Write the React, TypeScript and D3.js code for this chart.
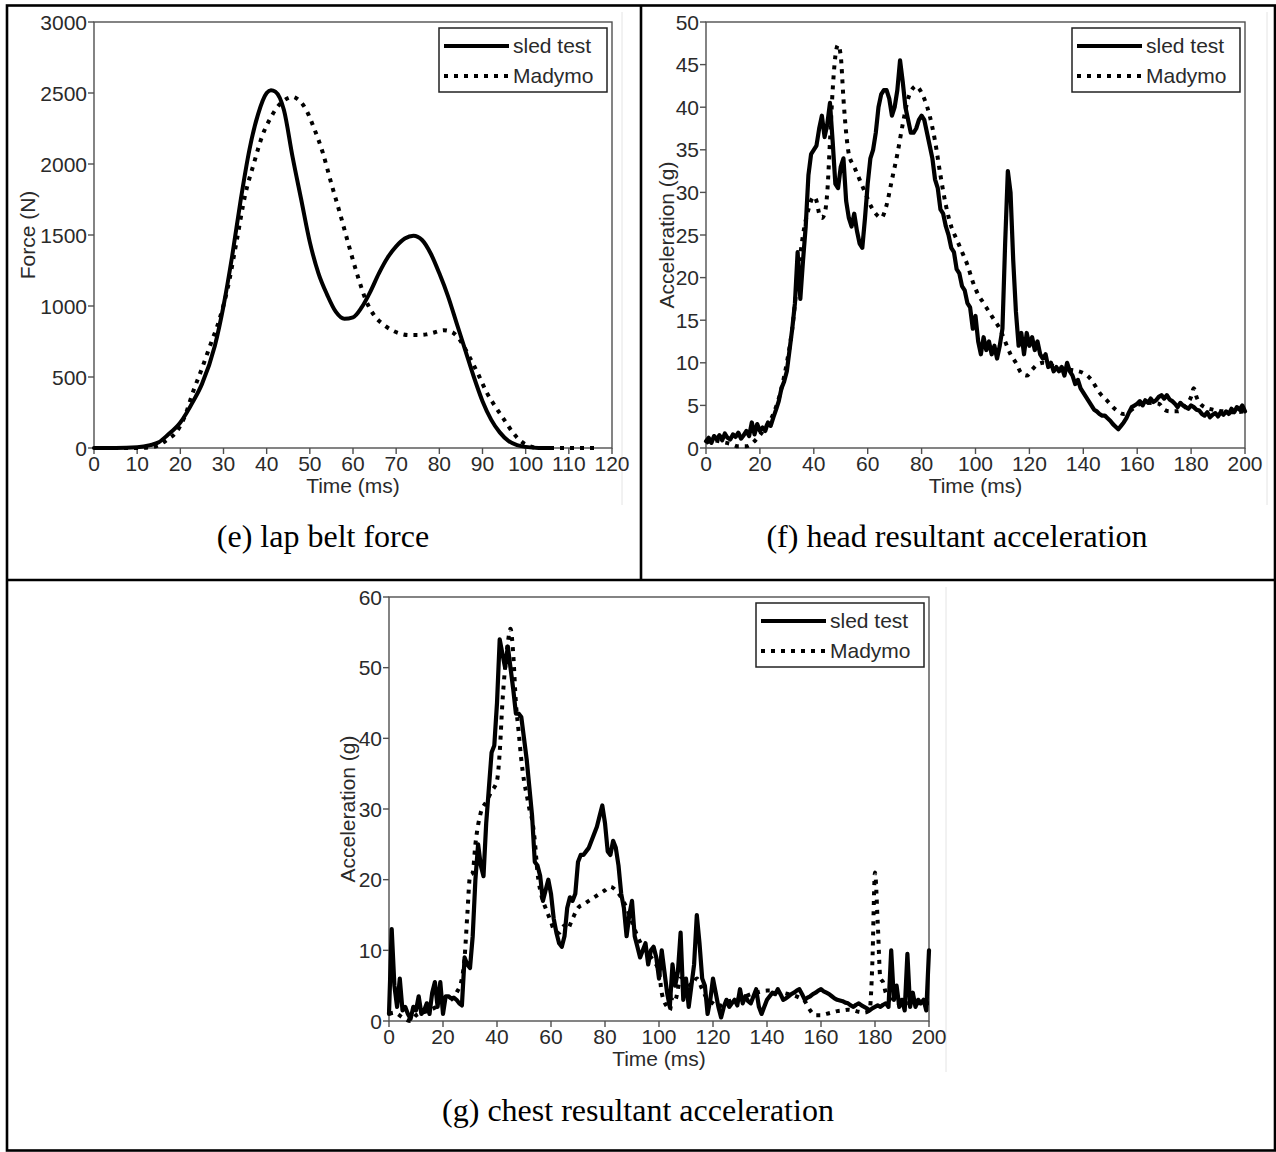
import React from "react";
import * as d3 from "d3";

type Pt = [number, number];

// ---- (e) lap belt force, N ----
const lapTicksX = [0, 10, 20, 30, 40, 50, 60, 70, 80, 90, 100, 110, 120];
const lapTicksY = [0, 500, 1000, 1500, 2000, 2500, 3000];
const lapSled: Pt[] = [
  [0, 0], [5, 0], [10, 5], [13, 20], [15, 40], [17, 90], [20, 180], [23, 330], [25, 450],
  [28, 720], [30, 1000], [32, 1350], [34, 1750], [36, 2100], [38, 2350], [40, 2500],
  [41, 2520], [42, 2510], [44, 2380], [46, 2050], [48, 1750], [50, 1450], [52, 1230],
  [54, 1080], [56, 960], [58, 910], [60, 920], [62, 990], [64, 1100], [66, 1230],
  [68, 1340], [70, 1420], [72, 1475], [74, 1495], [76, 1465], [78, 1370], [80, 1230],
  [82, 1070], [84, 880], [86, 690], [88, 500], [90, 330], [92, 200], [94, 110], [96, 50],
  [98, 20], [100, 8], [103, 0], [106, 0],
];
const lapMadymo: Pt[] = [
  [0, 0], [5, 0], [10, 0], [13, 5], [15, 20], [17, 60], [19, 110], [21, 220], [23, 400],
  [25, 560], [27, 730], [29, 900], [31, 1130], [33, 1450], [35, 1780], [37, 2000],
  [39, 2200], [41, 2330], [43, 2420], [45, 2465], [46, 2473], [47, 2460], [49, 2390],
  [51, 2250], [53, 2080], [55, 1860], [57, 1650], [59, 1430], [61, 1220], [63, 1040],
  [65, 930], [67, 870], [69, 830], [71, 805], [73, 795], [75, 795], [77, 800], [79, 815],
  [81, 830], [83, 815], [85, 750], [87, 640], [89, 520], [91, 390], [93, 290], [95, 200],
  [97, 110], [99, 45], [101, 12], [103, 0], [110, 0], [117, 0],
];

// ---- (f) head resultant acceleration, g ----
const accTicksX = [0, 20, 40, 60, 80, 100, 120, 140, 160, 180, 200];
const headTicksY = [0, 5, 10, 15, 20, 25, 30, 35, 40, 45, 50];
// sled test, sampled every 1 ms from 0 to 200 ms
const headSled: number[] = [
  0.8, 1.2, 0.6, 1.4, 1.0, 1.5, 0.9, 1.7, 1.2, 1.0, 1.6, 1.3, 1.8, 1.1, 1.5, 2.0, 1.4, 3.0, 1.6, 2.8,
  2.0, 2.4, 2.0, 3.0, 2.6, 3.6, 4.5, 5.5, 7.0, 7.8, 9.0, 11.5, 14.0, 17.0, 23.0, 17.5, 22.0, 26.0, 32.0, 34.5,
  35.0, 35.5, 37.5, 39.0, 36.5, 38.0, 40.5, 36.0, 31.0, 30.5, 33.0, 34.0, 29.0, 27.0, 26.0, 27.5, 25.5, 24.0, 23.5, 27.0,
  31.0, 34.0, 35.0, 37.0, 40.0, 41.5, 42.0, 42.0, 41.0, 39.0, 40.0, 42.0, 45.5, 43.0, 40.0, 38.5, 37.0, 37.0, 37.5, 38.5,
  39.0, 38.5, 37.0, 35.5, 34.0, 31.5, 30.5, 28.0, 27.5, 26.0, 25.0, 23.5, 23.0, 21.0, 20.5, 19.0, 18.5, 17.0, 16.5, 14.0,
  15.5, 12.5, 11.0, 13.0, 11.5, 12.5, 11.0, 12.0, 10.5, 12.0, 14.0, 24.0, 32.5, 30.0, 22.0, 16.0, 12.0, 13.5, 11.0, 13.5,
  12.0, 13.0, 11.5, 12.5, 11.0, 10.5, 11.0, 9.5, 10.0, 9.0, 9.5, 9.0, 9.5, 8.5, 10.0, 9.0, 8.5, 7.5, 8.0, 7.0,
  6.5, 6.0, 5.5, 5.0, 4.5, 4.3, 4.0, 3.8, 3.8, 3.5, 3.2, 2.8, 2.5, 2.2, 2.6, 3.0, 3.5, 4.2, 4.8, 5.0,
  5.2, 5.5, 5.0, 5.6, 5.3, 5.8, 5.4, 5.6, 6.0, 6.2, 5.8, 6.2, 5.7, 5.5, 5.2, 4.8, 5.3, 5.0, 4.8, 4.6,
  5.0, 4.8, 4.5, 4.4, 4.0, 3.8, 4.2, 3.6, 3.9, 4.1, 3.7, 4.2, 3.9, 4.3, 4.0, 4.6, 4.2, 4.8, 4.5, 5.0,
  4.3,
];
const headMadymo: Pt[] = [
  [0, 0.6], [3, 0.9], [6, 0.7], [9, 0.5], [12, 0.2], [15, 0.2], [18, 0.8], [20, 1.5], [22, 2.4],
  [25, 4], [28, 7], [30, 10], [32, 14], [34, 20], [36, 25], [38, 28], [40, 29.5], [41, 29],
  [42, 27.5], [43, 27], [44, 27.5], [45, 30], [46, 36], [47, 42], [48, 46], [49, 47.3], [50, 46],
  [51, 41], [52, 37], [53, 34.5], [55, 33], [57, 31.5], [59, 30], [61, 28.5], [63, 27.5], [65, 27],
  [67, 28.5], [69, 31.5], [71, 34.5], [73, 38], [75, 41], [77, 42.3], [78, 42.5], [79, 42.2],
  [81, 41], [83, 39], [85, 36], [87, 32], [89, 28.5], [91, 26], [93, 24.5], [95, 23], [97, 21.5],
  [99, 19.5], [101, 18], [103, 17], [105, 16], [107, 15], [109, 14], [111, 12.5], [113, 11],
  [115, 10], [117, 8.8], [119, 8.5], [121, 9.2], [123, 9.8], [125, 10], [130, 9.5], [135, 9.2],
  [140, 8.8], [143, 8], [146, 6.5], [149, 5.5], [152, 4.5], [155, 4], [158, 4.5], [160, 5],
  [164, 5.3], [168, 5.2], [170, 4.5], [172, 4.3], [175, 4.3], [178, 5], [180, 6], [181, 7],
  [182, 6], [184, 5], [188, 4.5], [192, 4.3], [196, 4.2], [200, 4.3],
];

// ---- (g) chest resultant acceleration, g ----
const chestTicksY = [0, 10, 20, 30, 40, 50, 60];
// sled test, sampled every 1 ms from 0 to 200 ms
const chestSled: number[] = [
  1, 13, 5, 2, 6, 1.5, 2, 1, 0.3, 2, 1.5, 3.5, 1, 1.5, 2.5, 1, 4, 5.5, 2, 5.5,
  1, 3.5, 3.5, 3.2, 3.3, 3, 2.5, 2.2, 9, 8, 7.5, 12, 20, 25, 22, 20.5, 28, 33, 38, 39,
  45, 54, 52, 50, 53, 50, 47, 43.5, 43.5, 43, 40, 37, 33, 29, 22.5, 22, 20.5, 17, 18.5, 20,
  18, 14.5, 12.5, 11, 10.5, 12, 16, 17.5, 17, 18, 22.5, 23.5, 23.5, 24, 24.5, 25.5, 26.5, 27.5, 29, 30.5,
  28, 24, 23.5, 25.5, 24.5, 22, 18, 16, 12, 15, 17, 12, 10.5, 9, 10, 11, 8, 10, 10.5, 9,
  6, 10, 7, 4, 2, 8, 5, 7, 12.5, 3, 6, 2, 5, 8, 15, 11, 6, 5, 1, 3,
  6, 4, 2, 0.5, 2, 3, 2, 2.5, 3, 2.2, 4.5, 2.5, 3.5, 2.8, 2.5, 3.5, 4.5, 2, 1, 2,
  3, 3.5, 4, 3.8, 4.5, 3.8, 3, 3.2, 3.5, 3.8, 4, 4.3, 4.5, 3.8, 3, 3.3, 3.5, 3.8, 4, 4.3,
  4.5, 4.2, 4, 3.8, 3.5, 3.2, 3, 2.9, 2.8, 2.6, 2.5, 2.2, 2, 2.3, 2.5, 2.2, 2, 1.8, 1.5, 1.8,
  2, 2.2, 2, 2.3, 2.5, 2, 10, 3, 5, 2, 3, 1.5, 9.5, 2, 4, 2, 3, 2.5, 3, 1.5,
  10,
];
const chestMadymo: Pt[] = [
  [0, 1], [2, 1.2], [5, 0.5], [8, 0], [10, 0.8], [15, 1.5], [20, 2.5], [23, 3], [25, 4], [27, 6],
  [28, 9], [29, 15], [30, 20.5], [31, 21], [32, 25], [34, 29.5], [36, 31], [38, 32.5], [40, 34],
  [41, 38], [42, 45], [43, 50], [44, 53.5], [45, 55.5], [46, 52], [47, 45], [48, 41], [49, 37],
  [50, 34], [51, 32], [52, 30], [53, 28.5], [54, 25.5], [55, 21], [56, 18.5], [57, 17], [58, 16],
  [59, 15], [60, 14], [61, 13], [63, 12.5], [65, 13.5], [66, 13], [68, 14.5], [70, 16], [72, 16.5],
  [74, 17], [76, 17.5], [78, 18], [80, 18.5], [82, 19], [84, 18.5], [86, 17.5], [88, 16], [90, 14],
  [92, 12], [94, 10.5], [96, 9.5], [98, 8.5], [100, 7], [101, 4], [103, 2], [104, 1.5], [105, 3.5],
  [106, 3], [108, 6], [110, 5.5], [112, 5], [114, 6], [116, 4.5], [118, 3], [120, 2.5], [122, 2],
  [124, 2.5], [126, 2.8], [128, 3], [130, 3.2], [132, 3.5], [134, 3.8], [136, 4], [138, 4.2],
  [140, 4.3], [142, 4.3], [144, 4.2], [146, 4], [148, 3.8], [150, 3.6], [152, 3.3], [154, 2.8],
  [156, 1.5], [158, 0.8], [160, 0.8], [162, 1], [164, 1.2], [166, 1.4], [168, 1.5], [170, 1.6],
  [172, 1.5], [174, 1.3], [176, 1.2], [178, 1.5], [179, 8], [180, 21], [181, 14], [182, 6],
  [183, 5.5], [184, 4], [186, 3], [190, 2.5], [195, 2.5], [200, 2.5],
];

const SANS = "'Liberation Sans', Arial, sans-serif";
const SERIF = "'Liberation Serif', 'Times New Roman', serif";
const AXIS = "#505050";
const TEXT = "#2a2a2a";
const FS = 21;
const DOTS = "4 6";

const sampled = (vals: number[]): Pt[] => vals.map((v, i) => [i, v] as Pt);

interface PanelProps {
  left: number;
  right: number;
  top: number;
  bottom: number;
  xMax: number;
  yMax: number;
  xTicks: number[];
  yTicks: number[];
  yLabel: string;
  yLabelX: number;
  sled: Pt[];
  madymo: Pt[];
  smooth: boolean;
}

function Panel(p: PanelProps) {
  const x = d3.scaleLinear().domain([0, p.xMax]).range([p.left, p.right]);
  const y = d3.scaleLinear().domain([0, p.yMax]).range([p.bottom, p.top]);
  const line = d3
    .line<Pt>()
    .x((d) => x(d[0]))
    .y((d) => y(d[1]))
    .curve(p.smooth ? d3.curveMonotoneX : d3.curveLinear);
  const madLine = d3
    .line<Pt>()
    .x((d) => x(d[0]))
    .y((d) => y(d[1]))
    .curve(d3.curveMonotoneX);

  const lgR = p.right - 5;
  const lgL = lgR - 168;
  const lgT = p.top + 6;
  const lgB = lgT + 64;

  return (
    <g>
      {/* plot frame */}
      <rect x={p.left} y={p.top} width={p.right - p.left} height={p.bottom - p.top}
        fill="none" stroke={AXIS} strokeWidth={1.4} />
      {/* y axis ticks */}
      {p.yTicks.map((t) => (
        <g key={"y" + t}>
          <line x1={p.left - 6} x2={p.left} y1={y(t)} y2={y(t)} stroke={AXIS} strokeWidth={1.4} />
          <text x={p.left - 7} y={y(t)} dy="0.36em" textAnchor="end" fontFamily={SANS}
            fontSize={FS} fill={TEXT}>{t}</text>
        </g>
      ))}
      {/* x axis ticks */}
      {p.xTicks.map((t) => (
        <g key={"x" + t}>
          <line x1={x(t)} x2={x(t)} y1={p.bottom} y2={p.bottom + 6} stroke={AXIS} strokeWidth={1.4} />
          <text x={x(t)} y={p.bottom + 23} textAnchor="middle" fontFamily={SANS}
            fontSize={FS} fill={TEXT}>{t}</text>
        </g>
      ))}
      <text x={(p.left + p.right) / 2} y={p.bottom + 45} textAnchor="middle"
        fontFamily={SANS} fontSize={FS} fill={TEXT}>Time (ms)</text>
      <text transform={`translate(${p.yLabelX},${(p.top + p.bottom) / 2}) rotate(-90)`}
        textAnchor="middle" dy="0.36em" fontFamily={SANS} fontSize={FS} fill={TEXT}>{p.yLabel}</text>

      {/* series */}
      <path d={madLine(p.madymo) ?? ""} fill="none" stroke="#000" strokeWidth={4}
        strokeDasharray={DOTS} />
      <path d={line(p.sled) ?? ""} fill="none" stroke="#000" strokeWidth={p.smooth ? 4 : 4.2}
        strokeLinejoin="round" strokeLinecap="round" />

      {/* legend */}
      <rect x={lgL} y={lgT} width={lgR - lgL} height={lgB - lgT} fill="#fff"
        stroke="#222" strokeWidth={1.5} />
      <line x1={lgL + 5} x2={lgL + 70} y1={lgT + 18} y2={lgT + 18} stroke="#000" strokeWidth={4} />
      <text x={lgL + 74} y={lgT + 25} fontFamily={SANS} fontSize={FS} fill={TEXT}>sled test</text>
      <line x1={lgL + 5} x2={lgL + 70} y1={lgT + 48} y2={lgT + 48} stroke="#000" strokeWidth={4}
        strokeDasharray={DOTS} />
      <text x={lgL + 74} y={lgT + 55} fontFamily={SANS} fontSize={FS} fill={TEXT}>Madymo</text>
    </g>
  );
}

export default function App() {
  return (
    <svg width={1276} height={1152} viewBox="0 0 1276 1152"
      style={{ position: "absolute", left: 0, top: 0, background: "#fff" }}>
      <rect x={0} y={0} width={1276} height={1152} fill="#fff" />

      {/* faint edges next to each chart */}
      <line x1={622} x2={622} y1={12} y2={505} stroke="#e4e4e4" strokeWidth={1} />
      <line x1={1267} x2={1267} y1={12} y2={505} stroke="#e4e4e4" strokeWidth={1} />
      <line x1={946} x2={946} y1={587} y2={1072} stroke="#e4e4e4" strokeWidth={1} />

      <Panel left={94} right={612} top={22} bottom={448} xMax={120} yMax={3000}
        xTicks={lapTicksX} yTicks={lapTicksY} yLabel="Force (N)" yLabelX={27}
        sled={lapSled} madymo={lapMadymo} smooth={true} />
      <Panel left={706} right={1245} top={22} bottom={448} xMax={200} yMax={50}
        xTicks={accTicksX} yTicks={headTicksY} yLabel="Acceleration (g)" yLabelX={666}
        sled={sampled(headSled)} madymo={headMadymo} smooth={false} />
      <Panel left={389} right={929} top={597} bottom={1021} xMax={200} yMax={60}
        xTicks={accTicksX} yTicks={chestTicksY} yLabel="Acceleration (g)" yLabelX={347}
        sled={sampled(chestSled)} madymo={chestMadymo} smooth={false} />

      {/* captions */}
      <text x={323} y={547} textAnchor="middle" fontFamily={SERIF} fontSize={32} fill="#000">
        (e) lap belt force
      </text>
      <text x={957} y={547} textAnchor="middle" fontFamily={SERIF} fontSize={32} fill="#000">
        (f) head resultant acceleration
      </text>
      <text x={638} y={1121} textAnchor="middle" fontFamily={SERIF} fontSize={32} fill="#000">
        (g) chest resultant acceleration
      </text>

      {/* table borders */}
      <rect x={7} y={5.5} width={1268} height={1145} fill="none" stroke="#000" strokeWidth={2.6} />
      <line x1={641} x2={641} y1={5.5} y2={580} stroke="#000" strokeWidth={2.6} />
      <line x1={7} x2={1275} y1={580} y2={580} stroke="#000" strokeWidth={2.6} />
    </svg>
  );
}
